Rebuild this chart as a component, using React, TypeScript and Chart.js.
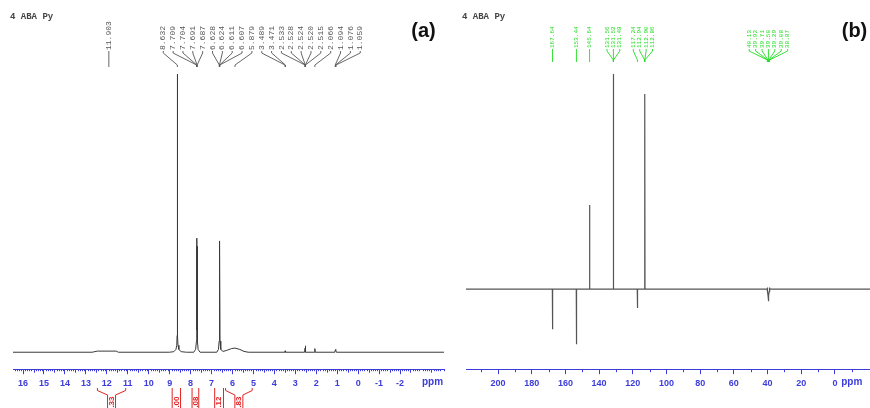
import React, { useEffect, useRef } from 'react';
import { Chart, registerables } from 'chart.js';

Chart.register(...registerables);

// ---------- (a) 1H spectrum ----------
const H_TICKS = [-2, -1, 0, 1, 2, 3, 4, 5, 6, 7, 8, 9, 10, 11, 12, 13, 14, 15, 16];
const H_SHIFT = [
  16.48, 12.7, 12.45, 11.55, 11.45, 9.0, 8.8, 8.7, 8.66, 8.645, 8.632, 8.62, 8.6, 8.56, 8.45, 8.2,
  7.85, 7.76, 7.72, 7.709, 7.698, 7.687, 7.675, 7.64, 7.55,
  6.75, 6.67, 6.636, 6.628, 6.617, 6.607, 6.595, 6.56, 6.45, 6.3, 6.05, 5.88, 5.65, 5.45, 5.25,
  3.5, 3.489, 3.471, 3.46, 2.56, 2.533, 2.524, 2.515, 2.5, 2.08, 2.066, 2.05,
  1.11, 1.094, 1.076, 1.059, 1.04, -4.1,
];
const H_INTENSITY = [
  0, 0, 0.4, 0.4, 0, 0, 0.2, 1.0, 2.5, 6, 100, 6, 2.5, 1.0, 0.2, 0,
  0, 1.0, 4, 41, 8, 38, 4, 1.0, 0,
  0, 1, 4, 40, 8, 38, 4, 1, 0.3, 0.6, 1.3, 1.5, 1.0, 0.3, 0,
  0, 0.5, 0.4, 0, 0, 1.5, 2.3, 1.5, 0, 0, 1.3, 0,
  0, 0.8, 1.0, 0.8, 0, 0,
];
const H_LABEL_GROUPS = [
  ['11.903'],
  ['8.632', '7.709', '7.704', '7.691', '7.687', '6.628', '6.624', '6.611', '6.607', '5.879',
    '3.489', '3.471', '2.533', '2.528', '2.524', '2.520', '2.515', '2.066', '1.094', '1.076', '1.059'],
];
const H_INT_FROM = [12.45, 8.88, 7.93, 6.85, 6.33];
const H_INT_TO = [11.1, 8.48, 7.61, 6.43, 5.06];
const H_INT_VALUE = ['1.33', '2.00', '2.08', '2.12', '1.83'];

// ---------- (b) 13C APT spectrum ----------
const C_TICKS = [0, 20, 40, 60, 80, 100, 120, 140, 160, 180, 200];
const C_SHIFT = [
  219, 167.75, 167.64, 167.53, 153.55, 153.44, 153.33, 145.75, 145.64, 145.53,
  131.65, 131.52, 131.39, 117.35, 117.24, 117.13, 113.05, 112.9, 112.75,
  40.3, 40.13, 39.92, 39.71, 39.5, 39.29, 39.08, 38.87, 38.7, -20.8,
];
const C_INTENSITY = [
  0, 0, -18.6, 0, 0, -25.6, 0, 0, 39.1, 0,
  0, 100, 0, 0, -8.8, 0, 0, 90.7, 0,
  0, 0.8, -1.2, -3, -5.6, -3, -1.2, 0.8, 0, 0,
];
const C_LABEL_GROUPS = [
  ['167.64'],
  ['153.44'],
  ['145.64'],
  ['131.56', '131.52', '131.48'],
  ['117.24', '112.94', '112.90', '112.86'],
  ['40.13', '39.92', '39.71', '39.50', '39.29', '39.08', '38.87'],
];

const BLUE = '#3c3cdc';
const RED = '#e02424';
const MONO = '"Courier New", "Liberation Mono", monospace';
const SANS = '"Liberation Sans", Arial, sans-serif';

type Minor = { v: number; len: number };
type Deco = {
  title: string;
  titleX: number;
  tag: string;
  tagX: number;
  groups: string[][];
  labelColor: string;
  lineColor: string;
  labelFont: string;
  spacing: number;
  textBottom: number;
  stubEnd: number;
  diagEnd: number;
  lineEnd: number;
  minor: Minor[];
  ppmAt: number;
  integrals?: { from: number[]; to: number[]; value: string[] };
};

function minorTicksA(): Minor[] {
  const out: Minor[] = [];
  for (let k = -41; k <= 164; k++) {
    if (k % 10 === 0) continue;
    out.push({ v: k / 10, len: k % 5 === 0 ? 3.5 : 2 });
  }
  return out;
}
function minorTicksB(): Minor[] {
  const out: Minor[] = [];
  for (let v = -10; v <= 210; v += 20) out.push({ v, len: 3 });
  return out;
}

function decoPlugin(d: Deco) {
  return {
    id: 'deco',
    afterDraw(chart: any) {
      const ctx: CanvasRenderingContext2D = chart.ctx;
      const xs = chart.scales.x;
      const axisY = chart.chartArea.bottom;
      ctx.save();
      // minor ticks
      ctx.strokeStyle = BLUE;
      ctx.lineWidth = 1;
      ctx.beginPath();
      for (const m of d.minor) {
        const px = Math.round(xs.getPixelForValue(m.v)) + 0.5;
        ctx.moveTo(px, axisY);
        ctx.lineTo(px, axisY + m.len);
      }
      ctx.stroke();
      // ppm label
      ctx.fillStyle = BLUE;
      ctx.font = `bold 10px ${SANS}`;
      ctx.textAlign = 'center';
      ctx.textBaseline = 'middle';
      ctx.fillText('ppm', xs.getPixelForValue(d.ppmAt), axisY + 13.5);
      // title + tag
      ctx.fillStyle = '#444';
      ctx.font = `bold 9px ${MONO}`;
      ctx.textAlign = 'left';
      ctx.textBaseline = 'alphabetic';
      ctx.fillText(d.title, d.titleX, 19);
      ctx.fillStyle = '#111';
      ctx.font = `bold 20px ${SANS}`;
      ctx.textAlign = 'center';
      ctx.fillText(d.tag, d.tagX, 37);
      // peak labels
      ctx.font = d.labelFont;
      ctx.fillStyle = d.labelColor;
      ctx.strokeStyle = d.lineColor;
      ctx.lineWidth = 0.9;
      for (const g of d.groups) {
        const peaks = g.map((s) => xs.getPixelForValue(parseFloat(s)));
        const mean = peaks.reduce((a, b) => a + b, 0) / peaks.length;
        const n = g.length;
        g.forEach((s, i) => {
          const lx = mean + (i - (n - 1) / 2) * d.spacing;
          ctx.save();
          ctx.translate(lx, d.textBottom);
          ctx.rotate(-Math.PI / 2);
          ctx.textAlign = 'left';
          ctx.textBaseline = 'middle';
          ctx.fillText(s, 0, 0);
          ctx.restore();
          ctx.beginPath();
          if (n === 1) {
            ctx.moveTo(lx, d.textBottom + 1);
            ctx.lineTo(lx, d.lineEnd);
          } else {
            ctx.moveTo(lx, d.textBottom + 1);
            ctx.lineTo(lx, d.stubEnd);
            ctx.lineTo(peaks[i], d.diagEnd);
            ctx.lineTo(peaks[i], d.lineEnd);
          }
          ctx.stroke();
        });
      }
      // integrals
      if (d.integrals) {
        const it = d.integrals;
        ctx.strokeStyle = RED;
        ctx.fillStyle = RED;
        ctx.lineWidth = 1;
        ctx.font = `bold 8px ${SANS}`;
        const y0 = 388, y1 = 390.5, y2 = 395, bottom = 410, hw = 4;
        it.from.forEach((f, i) => {
          const p1 = xs.getPixelForValue(f);
          const p2 = xs.getPixelForValue(it.to[i]);
          const l = Math.min(p1, p2), r = Math.max(p1, p2);
          const cx = (l + r) / 2;
          ctx.beginPath();
          if (r - l > 2 * hw + 4) {
            ctx.moveTo(l, y0); ctx.lineTo(l, y1); ctx.lineTo(cx - hw, y2); ctx.lineTo(cx - hw, bottom);
            ctx.moveTo(r, y0); ctx.lineTo(r, y1); ctx.lineTo(cx + hw, y2); ctx.lineTo(cx + hw, bottom);
          } else {
            ctx.moveTo(l, y0); ctx.lineTo(l, bottom);
            ctx.moveTo(r, y0); ctx.lineTo(r, bottom);
          }
          ctx.stroke();
          ctx.save();
          ctx.translate(cx, y2 + 1.5);
          ctx.rotate(-Math.PI / 2);
          ctx.textAlign = 'right';
          ctx.textBaseline = 'middle';
          ctx.fillText(it.value[i], 0, 0);
          ctx.restore();
        });
      }
      ctx.restore();
    },
  };
}

function makeConfig(opts: {
  shift: number[];
  intensity: number[];
  ticks: number[];
  xMin: number;
  xMax: number;
  yMin: number;
  yMax: number;
  padLeft: number;
  padRight: number;
  lineColor: string;
  lineWidth: number;
  deco: Deco;
}): any {
  return {
    type: 'line',
    data: {
      datasets: [
        {
          data: opts.shift.map((x, i) => ({ x, y: opts.intensity[i] })),
          borderColor: opts.lineColor,
          borderWidth: opts.lineWidth,
          pointRadius: 0,
          tension: 0,
          fill: false,
        },
      ],
    },
    options: {
      animation: false,
      responsive: false,
      events: [],
      layout: { padding: { left: opts.padLeft, right: opts.padRight, top: 10, bottom: 15 } },
      plugins: { legend: { display: false }, tooltip: { enabled: false } },
      scales: {
        x: {
          type: 'linear',
          reverse: true,
          bounds: 'data',
          min: opts.xMin,
          max: opts.xMax,
          afterBuildTicks: (scale: any) => {
            scale.ticks = opts.ticks.map((v) => ({ value: v }));
          },
          ticks: {
            color: BLUE,
            font: { family: SANS, size: 9, weight: 'bold' },
            padding: 4,
            maxRotation: 0,
            autoSkip: false,
            callback: (v: any) => String(v),
          },
          grid: { drawOnChartArea: false, drawTicks: true, tickLength: 5, color: BLUE },
          border: { color: BLUE, width: 1 },
        },
        y: { display: false, min: opts.yMin, max: opts.yMax },
      },
    },
    plugins: [decoPlugin(opts.deco)],
  };
}

export default function App() {
  const aRef = useRef<HTMLCanvasElement>(null);
  const bRef = useRef<HTMLCanvasElement>(null);

  useEffect(() => {
    const a = new Chart(
      aRef.current as HTMLCanvasElement,
      makeConfig({
        shift: H_SHIFT,
        intensity: H_INTENSITY,
        ticks: H_TICKS,
        xMin: -4.1,
        xMax: 16.48,
        yMin: -6.1,
        yMax: 123,
        padLeft: 13,
        padRight: 6,
        lineColor: '#3a3a3a',
        lineWidth: 1,
        deco: {
          title: '4 ABA Py',
          titleX: 10,
          tag: '(a)',
          tagX: 423.5,
          groups: H_LABEL_GROUPS,
          labelColor: '#555',
          lineColor: '#555',
          labelFont: `8px ${MONO}`,
          spacing: 9.85,
          textBottom: 50,
          stubEnd: 53,
          diagEnd: 65,
          lineEnd: 67,
          minor: minorTicksA(),
          ppmAt: -3.55,
          integrals: { from: H_INT_FROM, to: H_INT_TO, value: H_INT_VALUE },
        },
      })
    );
    const b = new Chart(
      bRef.current as HTMLCanvasElement,
      makeConfig({
        shift: C_SHIFT,
        intensity: C_INTENSITY,
        ticks: C_TICKS,
        xMin: -20.8,
        xMax: 219,
        yMin: -37.2,
        yMax: 129.8,
        padLeft: 16,
        padRight: 0,
        lineColor: '#555',
        lineWidth: 1.2,
        deco: {
          title: '4 ABA Py',
          titleX: 12,
          tag: '(b)',
          tagX: 404.5,
          groups: C_LABEL_GROUPS,
          labelColor: '#22dd22',
          lineColor: '#22dd22',
          labelFont: `6px ${MONO}`,
          spacing: 6.4,
          textBottom: 48,
          stubEnd: 51,
          diagEnd: 60,
          lineEnd: 62,
          minor: minorTicksB(),
          ppmAt: -10,
        },
      })
    );
    return () => {
      a.destroy();
      b.destroy();
    };
  }, []);

  return (
    <div style={{ position: 'absolute', left: 0, top: 0, width: 870, height: 408, background: '#fff', overflow: 'hidden' }}>
      <canvas ref={aRef} width={450} height={408} style={{ position: 'absolute', left: 0, top: 0 }} />
      <canvas ref={bRef} width={420} height={408} style={{ position: 'absolute', left: 450, top: 0 }} />
    </div>
  );
}
